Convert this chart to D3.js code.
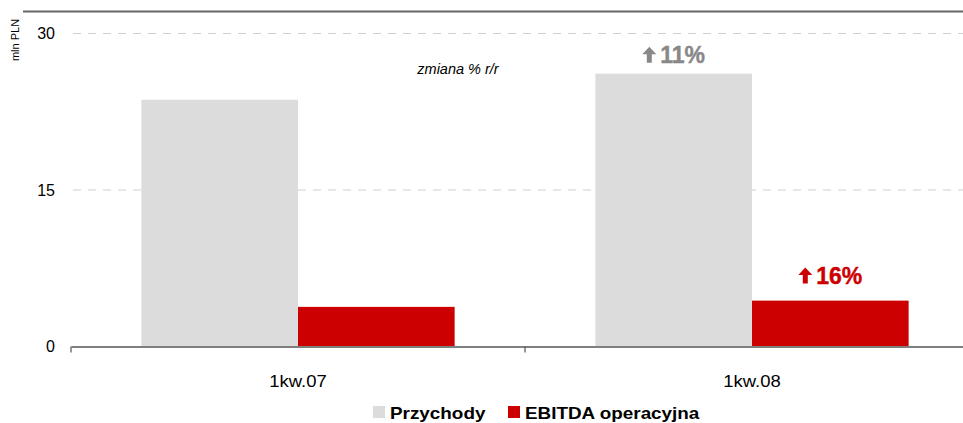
<!DOCTYPE html>
<html>
<head>
<meta charset="utf-8">
<script src="https://cdn.jsdelivr.net/npm/d3@7"></script>
<style>
  body { margin: 0; background: #fff; }
  text { font-family: "Liberation Sans", Arial, sans-serif; }
</style>
</head>
<body>
<div id="chart"></div>
<script>
var categories = ["1kw.07", "1kw.08"];
var seriesNames = ["Przychody", "EBITDA operacyjna"];
var przychody = [23.6, 26.1];
var ebitda = [3.75, 4.35];
var yTicks = [0, 15, 30];
var changeLabels = [null, "11%"];
var changeLabelsEbitda = [null, "16%"];

var colors = ["#dcdcdc", "#cc0000"];

var svgWidth = 963;
var svgHeight = 423;
var margin = { top: 33, right: -16, bottom: 77, left: 71 };
var width = svgWidth - margin.left - margin.right;
var height = svgHeight - margin.top - margin.bottom;

var svg = d3.select("#chart")
    .append("svg")
    .attr("width", svgWidth)
    .attr("height", svgHeight)
    .style("display", "block");

// top border line
svg.append("line")
    .attr("x1", 23).attr("x2", 963)
    .attr("y1", 11.5).attr("y2", 11.5)
    .attr("stroke", "#666")
    .attr("stroke-width", 2);

var chartGroup = svg.append("g")
    .attr("transform", `translate(${margin.left}, ${margin.top})`);

var x0 = d3.scaleBand()
    .domain(categories)
    .range([0, width])
    .paddingInner(0)
    .paddingOuter(0);

var x1 = d3.scaleBand()
    .domain(seriesNames)
    .range([x0.bandwidth() * 0.155, x0.bandwidth() * 0.845]);

var y = d3.scaleLinear()
    .domain([0, 30])
    .range([height, 0]);

// gridlines
chartGroup.selectAll(".grid")
    .data(yTicks.filter(d => d > 0))
    .enter()
    .append("line")
    .attr("x1", 2)
    .attr("x2", svgWidth - margin.left)
    .attr("y1", d => y(d) + 0.5)
    .attr("y2", d => y(d) + 0.5)
    .attr("stroke", "#d0d0d0")
    .attr("stroke-width", 1)
    .attr("stroke-dasharray", "8,7");

// y tick labels
chartGroup.selectAll(".ylab")
    .data(yTicks)
    .enter()
    .append("text")
    .attr("x", -16)
    .attr("y", d => y(d) + 6)
    .attr("text-anchor", "end")
    .attr("font-size", 16)
    .attr("fill", "#000")
    .text(d => d);

// bars
var data = categories.map((c, i) => ({ cat: c, values: [przychody[i], ebitda[i]] }));

var groups = chartGroup.selectAll(".group")
    .data(data)
    .enter()
    .append("g")
    .attr("transform", d => `translate(${x0(d.cat)}, 0)`);

groups.selectAll("rect")
    .data(d => d.values.map((v, j) => ({ name: seriesNames[j], value: v, j: j })))
    .enter()
    .append("rect")
    .attr("x", d => x1(d.name))
    .attr("y", d => y(d.value))
    .attr("width", x1.bandwidth())
    .attr("height", d => height - y(d.value))
    .attr("fill", d => colors[d.j]);

// x axis
var bottomAxis = d3.axisBottom(x0).tickSize(0).tickFormat("");
var xAxis = chartGroup.append("g")
    .attr("transform", `translate(0, ${height + 0.5})`)
    .call(bottomAxis);
xAxis.select(".domain").attr("stroke", "#555").attr("stroke-width", 1.5);

var boundaries = [0].concat(categories.map(c => x0(c) + x0.bandwidth()));
xAxis.selectAll(".bnd")
    .data(boundaries)
    .enter()
    .append("line")
    .attr("x1", d => d).attr("x2", d => d)
    .attr("y1", 0).attr("y2", 6)
    .attr("stroke", "#555")
    .attr("stroke-width", 1.2);

chartGroup.selectAll(".xlab")
    .data(categories)
    .enter()
    .append("text")
    .attr("transform", d => `translate(${x0(d) + x0.bandwidth() / 2}, ${height + 41}) scale(1.12, 1)`)
    .attr("text-anchor", "middle")
    .attr("font-size", 16.5)
    .attr("fill", "#000")
    .text(d => d);

// y axis title
svg.append("text")
    .attr("transform", "translate(19, 40) rotate(-90)")
    .attr("text-anchor", "middle")
    .attr("font-size", 11)
    .attr("fill", "#000")
    .text("mln PLN");

// subtitle
svg.append("text")
    .attr("x", 458)
    .attr("y", 74)
    .attr("text-anchor", "middle")
    .attr("font-size", 14.5)
    .attr("font-style", "italic")
    .attr("fill", "#000")
    .text("zmiana % r/r");

// change annotations with arrows
function addChange(cx, baseY, label, color) {
    var g = chartGroup.append("g");
    var t = g.append("text")
        .attr("x", cx + 9)
        .attr("y", baseY)
        .attr("text-anchor", "middle")
        .attr("font-size", 23)
        .attr("font-weight", "bold")
        .attr("fill", color)
        .attr("stroke", color)
        .attr("stroke-width", 0.4)
        .text(label);
    var w = t.node().getComputedTextLength();
    var ax = cx + 9 - w / 2 - 11;
    var top = baseY - 16;
    g.append("path")
        .attr("d", `M${ax - 7},${top + 7.5} L${ax},${top} L${ax + 7},${top + 7.5} L${ax + 2.5},${top + 7.5} L${ax + 2.5},${baseY} L${ax - 2.5},${baseY} L${ax - 2.5},${top + 7.5} Z`)
        .attr("fill", color);
}

categories.forEach(function (c, i) {
    if (changeLabels[i]) {
        var xr = x0(c) + x1(seriesNames[0]) + x1.bandwidth() / 2;
        addChange(xr, y(przychody[i]) - 11, changeLabels[i], "#888888");
    }
    if (changeLabelsEbitda[i]) {
        var xe = x0(c) + x1(seriesNames[1]) + x1.bandwidth() / 2;
        addChange(xe, y(ebitda[i]) - 17, changeLabelsEbitda[i], "#cc0000");
    }
});

// legend
var legendItems = [
    { name: seriesNames[0], color: colors[0], x: 373 },
    { name: seriesNames[1], color: colors[1], x: 508 }
];
var legend = svg.selectAll(".legend")
    .data(legendItems)
    .enter()
    .append("g")
    .attr("transform", d => `translate(${d.x}, 406)`);
legend.append("rect")
    .attr("width", 12)
    .attr("height", 12)
    .attr("fill", d => d.color);
legend.append("text")
    .attr("transform", "translate(17, 12.5) scale(1.18, 1)")
    .attr("font-size", 16)
    .attr("font-weight", "bold")
    .attr("fill", "#000")
    .text(d => d.name);
</script>
</body>
</html>
